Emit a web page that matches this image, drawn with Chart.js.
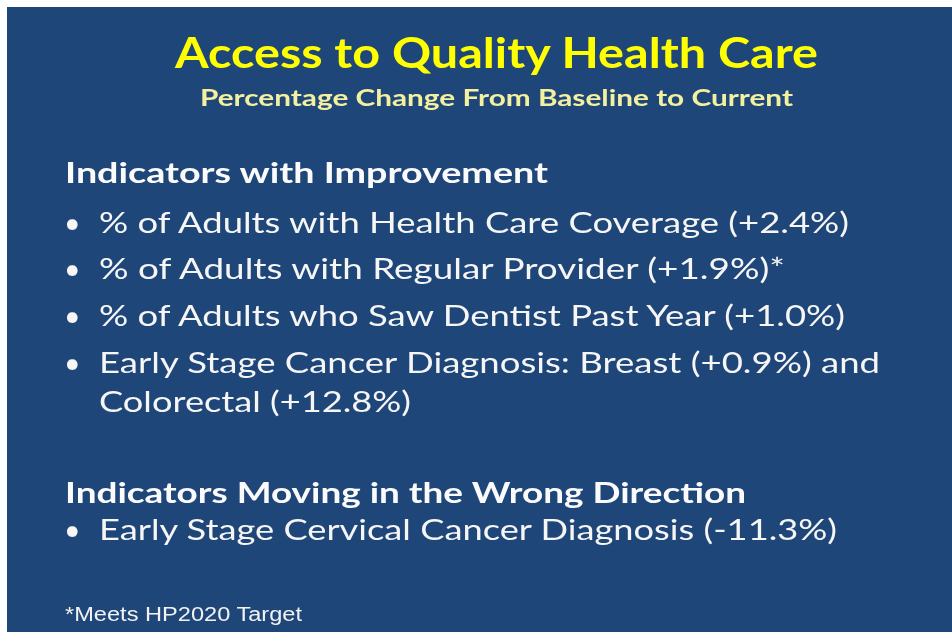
<!DOCTYPE html>
<html>
<head>
<meta charset="utf-8">
<script src="https://cdn.jsdelivr.net/npm/chart.js@4"></script>
<style>
  html, body { margin: 0; padding: 0; background: #ffffff; }
  #stage { position: relative; width: 952px; height: 632px; overflow: hidden; }
  #panel { position: absolute; left: 7px; top: 7px; }
  .ln { position: absolute; white-space: nowrap; line-height: 1; transform-origin: 0 0; }
  .title { font-family: Lato, "Open Sans", sans-serif; font-weight: 700; color: #ffff00; font-size: 42px; }
  .sub { font-family: Lato, "Open Sans", sans-serif; font-weight: 700; color: #f3f0a0; font-size: 22px; }
  .head { font-family: Lato, "Open Sans", sans-serif; font-weight: 700; color: #fbfbfb; font-size: 29px; }
  .item { font-family: Lato, "Open Sans", sans-serif; font-weight: 400; color: #f6f6f6; font-size: 28.5px; }
  .note { font-family: "Liberation Sans", Arial, sans-serif; color: #f2f2f2; font-size: 20px; }
</style>
</head>
<body>
<div id="stage">
  <canvas id="panel" width="945" height="625"></canvas>
</div>
<script>
// slide text and values
const slideTitle = 'Access to Quality Health Care';
const slideSubtitle = 'Percentage Change From Baseline to Current';
const groupTitles = ['Indicators with Improvement', 'Indicators Moving in the Wrong Direction'];
const improvedLabels = [
  '% of Adults with Health Care Coverage',
  '% of Adults with Regular Provider',
  '% of Adults who Saw Dentist Past Year',
  'Early Stage Cancer Diagnosis: Breast',
  'Colorectal'
];
const improvedChange = [2.4, 1.9, 1.0, 0.9, 12.8];
const improvedMark = ['', '*', '', '', ''];
const worseLabels = ['Early Stage Cervical Cancer Diagnosis'];
const worseChange = [-11.3];
const footNote = '*Meets HP2020 Target';

function pct(v) {
  return '(' + (v > 0 ? '+' : '') + v.toFixed(1) + '%)';
}

// blue slide background drawn by Chart.js
const panelFill = {
  id: 'panelFill',
  beforeDraw(chart) {
    const ctx = chart.ctx;
    ctx.save();
    ctx.fillStyle = '#1f4678';
    ctx.fillRect(0, 0, chart.width, chart.height);
    ctx.restore();
  }
};

new Chart(document.getElementById('panel'), {
  type: 'bar',
  data: { labels: improvedLabels, datasets: [] },
  options: {
    responsive: false,
    animation: false,
    events: [],
    layout: { padding: 0 },
    plugins: { legend: { display: false }, tooltip: { enabled: false } },
    scales: { x: { display: false }, y: { display: false } }
  },
  plugins: [panelFill]
});

// text lines: [class, text, left x, baseline y, right x]
const lines = [
  ['title', slideTitle, 175, 68, 818],
  ['sub', slideSubtitle, 200, 106, 793],
  ['head', groupTitles[0], 65, 183, 548],
  ['item', improvedLabels[0] + ' ' + pct(improvedChange[0]) + improvedMark[0], 99, 233, 849],
  ['item', improvedLabels[1] + ' ' + pct(improvedChange[1]) + improvedMark[1], 99, 279, 785],
  ['item', improvedLabels[2] + ' ' + pct(improvedChange[2]) + improvedMark[2], 99, 326, 845],
  ['item', improvedLabels[3] + ' ' + pct(improvedChange[3]) + ' and', 99, 373, 880],
  ['item', improvedLabels[4] + ' ' + pct(improvedChange[4]), 99, 412, 411],
  ['head', groupTitles[1], 65, 503, 746],
  ['item', worseLabels[0] + ' ' + pct(worseChange[0]), 99, 540, 837],
  ['note', footNote, 65, 621, 302]
];
const bulletRows = [233, 279, 326, 373, 540];

function baselineOf(el) {
  const probe = document.createElement('span');
  probe.style.display = 'inline-block';
  probe.style.width = '0';
  probe.style.height = '0';
  probe.style.verticalAlign = 'baseline';
  el.appendChild(probe);
  const off = probe.offsetTop;
  el.removeChild(probe);
  return off;
}

function place(cls, text, x, base, right) {
  const stage = document.getElementById('stage');
  const el = document.createElement('div');
  el.className = 'ln ' + cls;
  el.textContent = text;
  el.style.left = x + 'px';
  el.style.top = '0px';
  stage.appendChild(el);
  el.style.top = (base - baselineOf(el)) + 'px';
  if (right) {
    const w = el.getBoundingClientRect().width;
    el.style.transform = 'scaleX(' + ((right - x) / w).toFixed(4) + ')';
  }
}

function layout() {
  lines.forEach(l => place(l[0], l[1], l[2], l[3], l[4]));
  bulletRows.forEach(y => place('item', '\u2022', 64, y, null));
}

if (document.fonts && document.fonts.ready) {
  document.fonts.ready.then(layout);
} else {
  layout();
}
</script>
</body>
</html>
